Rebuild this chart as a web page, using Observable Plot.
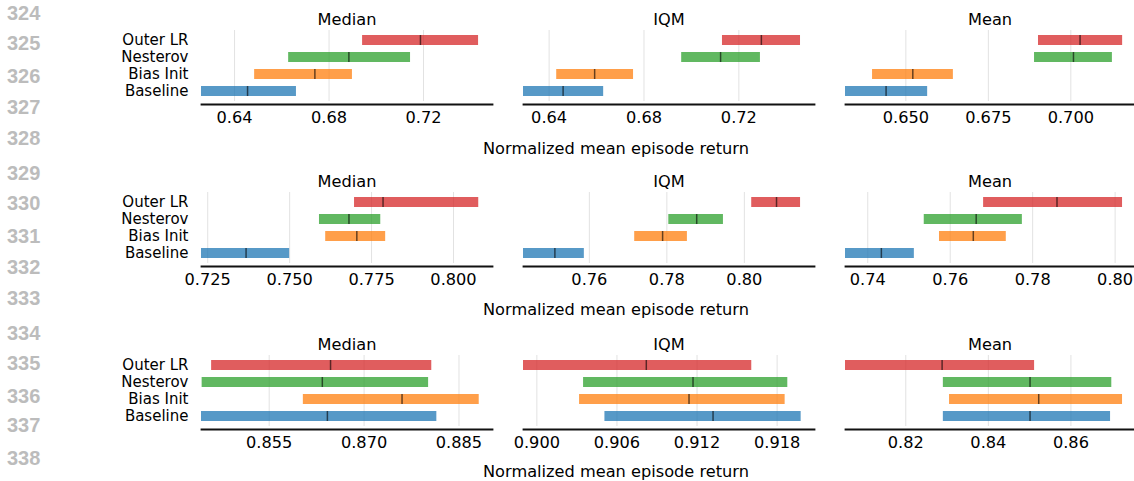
<!DOCTYPE html>
<html>
<head>
<meta charset="utf-8">
<script src="https://cdn.jsdelivr.net/npm/d3@7"></script>
<script src="https://cdn.jsdelivr.net/npm/@observablehq/plot@0.6"></script>
<style>
  body { margin: 0; background: #fff; }
  #root { position: relative; width: 1134px; height: 481px; overflow: hidden; font-family: "DejaVu Sans", sans-serif; }
  .panel { position: absolute; }
  .panel svg { overflow: visible; }
  .lineno { position: absolute; left: 7px; font-family: "Liberation Sans", Arial, sans-serif; font-weight: bold; font-size: 20px; line-height: 20px; color: #bcbcbc; }
  .xlabel { position: absolute; width: 400px; text-align: center; font-size: 16.2px; line-height: 16px; color: #000; }
</style>
</head>
<body>
<div id="root"></div>
<script>
// ---- data ----
const methods = ["Outer LR", "Nesterov", "Bias Init", "Baseline"];
const colors = ["#d62728", "#2ca02c", "#ff7f0e", "#1f77b4"];
const metrics = ["Median", "IQM", "Mean"];
const xLabel = "Normalized mean episode return";
const lineNumbers = [324, 325, 326, 327, 328, 329, 330, 331, 332, 333, 334, 335, 336, 337, 338];

// row 1
const r1MedianLo = [0.6942, 0.6629, 0.6485, 0.6260];
const r1MedianPt = [0.7187, 0.6884, 0.6740, 0.6455];
const r1MedianHi = [0.7433, 0.7145, 0.6899, 0.6662];
const r1IqmLo = [0.7131, 0.6959, 0.6432, 0.6292];
const r1IqmPt = [0.7295, 0.7123, 0.6592, 0.6459];
const r1IqmHi = [0.7460, 0.7291, 0.6756, 0.6630];
const r1MeanLo = [0.6902, 0.6890, 0.6399, 0.6317];
const r1MeanPt = [0.7028, 0.7008, 0.6521, 0.6440];
const r1MeanHi = [0.7157, 0.7126, 0.6644, 0.6566];
// row 2
const r2MedianLo = [0.7698, 0.7591, 0.7610, 0.7231];
const r2MedianPt = [0.7785, 0.7681, 0.7705, 0.7367];
const r2MedianHi = [0.8077, 0.7778, 0.7793, 0.7500];
const r2IqmLo = [0.8019, 0.7805, 0.7717, 0.7430];
const r2IqmPt = [0.8083, 0.7877, 0.7789, 0.7511];
const r2IqmHi = [0.8145, 0.7946, 0.7853, 0.7587];
const r2MeanLo = [0.7681, 0.7537, 0.7574, 0.7346];
const r2MeanPt = [0.7859, 0.7663, 0.7656, 0.7433];
const r2MeanHi = [0.8018, 0.7775, 0.7736, 0.7513];
// row 3
const r3MedianLo = [0.8459, 0.8444, 0.8604, 0.8443];
const r3MedianPt = [0.8647, 0.8634, 0.8760, 0.8642];
const r3MedianHi = [0.8807, 0.8802, 0.8882, 0.8815];
const r3IqmLo = [0.8990, 0.9035, 0.9032, 0.9051];
const r3IqmPt = [0.9082, 0.9117, 0.9114, 0.9132];
const r3IqmHi = [0.9161, 0.9188, 0.9186, 0.9198];
const r3MeanLo = [0.8054, 0.8291, 0.8306, 0.8291];
const r3MeanPt = [0.8288, 0.8501, 0.8522, 0.8501];
const r3MeanHi = [0.8512, 0.8699, 0.8725, 0.8696];

// x domains and tick labels per panel
const r1Domains = [[0.626, 0.7492], [0.6292, 0.7519], [0.6317, 0.7193]];
const r2Domains = [[0.7231, 0.8119], [0.7430, 0.8181], [0.7346, 0.8047]];
const r3Domains = [[0.8443, 0.8903], [0.8990, 0.9208], [0.8054, 0.8754]];
const r1Ticks = [[0.64, 0.68, 0.72], [0.64, 0.68, 0.72], [0.65, 0.675, 0.70]];
const r2Ticks = [[0.725, 0.75, 0.775, 0.80], [0.76, 0.78, 0.80], [0.74, 0.76, 0.78, 0.80]];
const r3Ticks = [[0.855, 0.870, 0.885], [0.900, 0.906, 0.912, 0.918], [0.82, 0.84, 0.86]];
const r1Formats = [".2f", ".2f", ".3f"];
const r2Formats = [".3f", ".2f", ".2f"];
const r3Formats = [".3f", ".3f", ".2f"];

// ---- layout ----
const root = document.getElementById("root");
const rowTops = [0, 162, 325];
const xLabelTops = [141, 302, 464];
const lineNoTops = [3, 33, 66, 97, 128, 163, 193, 226, 257, 288, 323, 353, 386, 415, 448];
const cols = [
  {left: 0, marginLeft: 201, plotW: 291, marginRight: 15, showY: true},
  {left: 503, marginLeft: 20, plotW: 291, marginRight: 15, showY: false},
  {left: 825, marginLeft: 20, plotW: 289, marginRight: 0, showY: false}
];

const rows = [
  {lo: [r1MedianLo, r1IqmLo, r1MeanLo], pt: [r1MedianPt, r1IqmPt, r1MeanPt], hi: [r1MedianHi, r1IqmHi, r1MeanHi], domains: r1Domains, ticks: r1Ticks, formats: r1Formats},
  {lo: [r2MedianLo, r2IqmLo, r2MeanLo], pt: [r2MedianPt, r2IqmPt, r2MeanPt], hi: [r2MedianHi, r2IqmHi, r2MeanHi], domains: r2Domains, ticks: r2Ticks, formats: r2Formats},
  {lo: [r3MedianLo, r3IqmLo, r3MeanLo], pt: [r3MedianPt, r3IqmPt, r3MeanPt], hi: [r3MedianHi, r3IqmHi, r3MeanHi], domains: r3Domains, ticks: r3Ticks, formats: r3Formats}
];

function panel(metric, lo, pt, hi, domain, ticks, fmt, col) {
  const data = methods.map((m, i) => ({method: m, lo: lo[i], pt: pt[i], hi: hi[i]}));
  const marks = [
    Plot.gridX(ticks, {stroke: "#e2e2e2", strokeOpacity: 1, strokeWidth: 1}),
    Plot.barX(data, {x1: "lo", x2: "hi", y: "method", fill: "method", fillOpacity: 0.75}),
    Plot.tickX(data, {x: "pt", y: "method", stroke: "#000", strokeOpacity: 0.6, strokeWidth: 1.5}),
    Plot.frame({anchor: "bottom", dy: 3, stroke: "#111", strokeWidth: 1.8}),
    Plot.text([metric], {frameAnchor: "top", lineAnchor: "middle", dy: -11, fontSize: 16.2, fill: "#000"})
  ];
  if (col.showY) marks.push(Plot.axisY({tickSize: 0, tickPadding: 13, fontSize: 15, label: null}));
  return Plot.plot({
    width: col.marginLeft + col.plotW + col.marginRight,
    height: 131,
    marginTop: 30,
    marginBottom: 30,
    marginLeft: col.marginLeft,
    marginRight: col.marginRight,
    style: {fontFamily: "DejaVu Sans", fontSize: "16.2px", background: "transparent", color: "#000", overflow: "visible"},
    x: {domain, ticks, tickFormat: d3.format(fmt), tickSize: 0, tickPadding: 10, label: null},
    y: {domain: methods, paddingInner: 0.41, paddingOuter: 0.205, axis: null, label: null},
    color: {domain: methods, range: colors},
    marks
  });
}

rows.forEach((row, r) => {
  metrics.forEach((metric, c) => {
    const col = cols[c];
    const div = document.createElement("div");
    div.className = "panel";
    div.style.left = col.left + "px";
    div.style.top = rowTops[r] + "px";
    div.appendChild(panel(metric, row.lo[c], row.pt[c], row.hi[c], row.domains[c], row.ticks[c], row.formats[c], col));
    root.appendChild(div);
  });
  const xl = document.createElement("div");
  xl.className = "xlabel";
  xl.style.left = (616 - 200) + "px";
  xl.style.top = xLabelTops[r] + "px";
  xl.textContent = xLabel;
  root.appendChild(xl);
});

lineNumbers.forEach((n, i) => {
  const d = document.createElement("div");
  d.className = "lineno";
  d.style.top = lineNoTops[i] + "px";
  d.textContent = n;
  root.appendChild(d);
});
</script>
</body>
</html>
